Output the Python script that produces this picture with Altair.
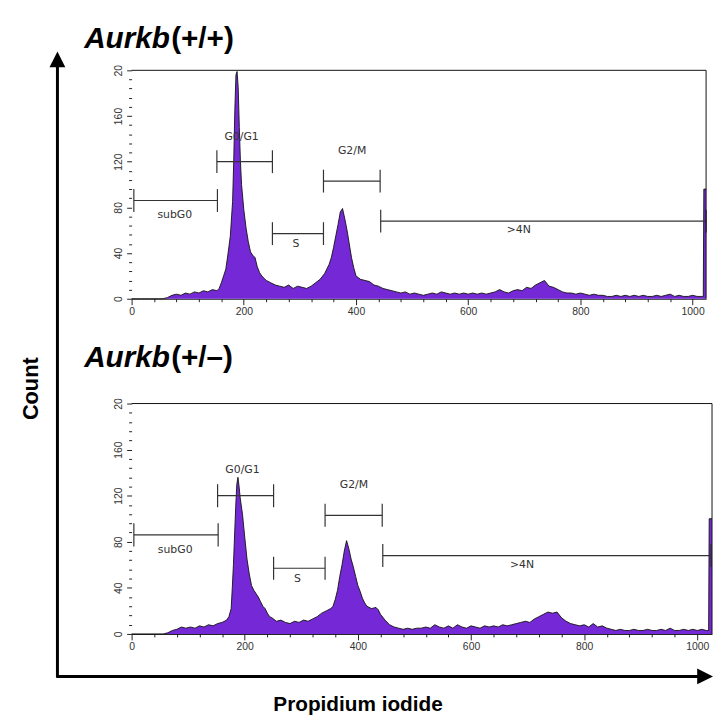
import altair as alt
import pandas as pd

# ---------------- data ----------------
top_pi = [0, 8, 16, 24, 32, 40, 48, 56, 64, 72, 80, 88, 96, 104, 112, 120, 128, 136, 144, 152,
          156, 160, 164, 168, 172, 176, 180, 182, 184, 186, 188, 190, 192, 194, 196, 200, 204,
          208, 212, 216, 220, 224, 228, 232, 236, 240, 248, 256, 264, 272, 280, 288, 296, 304,
          312, 320, 328, 336, 344, 352, 356, 360, 364, 368, 372, 376, 380, 384, 388, 392, 396,
          400, 408, 416, 424, 432, 440, 448, 456, 464, 472, 480, 488, 496, 504, 512, 520, 528,
          536, 544, 552, 560, 568, 576, 584, 592, 600, 608, 616, 624, 632, 640, 648, 656, 664,
          672, 680, 688, 696, 704, 712, 720, 728, 736, 744, 752, 760, 768, 776, 784, 792, 800,
          808, 816, 824, 832, 840, 848, 856, 864, 872, 880, 888, 896, 904, 912, 920, 928, 936,
          944, 952, 960, 968, 976, 984, 992, 1000, 1008, 1016, 1019, 1020, 1024]
top_count = [0, 0, 0, 0, 0, 0, 0, 0, 1, 3, 4, 3, 5, 4, 6, 5, 7, 6, 8, 7,
             9, 14, 20, 26, 40, 55, 85, 120, 165, 196, 199, 185, 150, 120, 100, 78, 62,
             50, 41, 38, 36, 28, 23, 20, 18, 16, 14, 12, 11, 10, 12, 9, 11, 10,
             9, 11, 14, 17, 22, 30, 36, 45, 55, 65, 76, 79, 70, 60, 48, 36, 27,
             20, 17, 16, 15, 12, 11, 9, 8, 7, 6, 5, 6, 4, 5, 4, 3, 4,
             5, 4, 6, 5, 4, 5, 4, 5, 4, 5, 4, 5, 4, 5, 6, 8, 6,
             5, 7, 8, 7, 10, 9, 12, 14, 16, 11, 10, 8, 6, 5, 5, 4, 5,
             4, 3, 4, 3, 3, 2, 2, 3, 2, 3, 2, 3, 2, 3, 2, 2, 3,
             2, 3, 4, 2, 3, 2, 2, 3, 2, 2, 2, 96, 96]

bot_pi = [0, 8, 16, 24, 32, 40, 48, 56, 64, 72, 80, 88, 96, 104, 112, 120, 128, 136, 144, 152,
          160, 168, 172, 176, 178, 180, 182, 184, 186, 188, 190, 192, 196, 200, 204, 208, 212,
          216, 220, 224, 228, 232, 236, 240, 244, 248, 256, 264, 272, 280, 288, 296, 304, 312,
          320, 328, 336, 344, 352, 356, 360, 364, 368, 372, 376, 380, 384, 388, 392, 396, 400,
          404, 408, 412, 416, 424, 432, 436, 440, 448, 456, 464, 472, 480, 488, 496, 504, 512,
          520, 528, 536, 544, 552, 560, 568, 576, 584, 592, 600, 608, 616, 624, 632, 640, 648,
          656, 664, 672, 680, 688, 696, 704, 712, 720, 728, 736, 744, 752, 760, 768, 776, 784,
          792, 800, 808, 816, 824, 832, 840, 848, 856, 864, 872, 880, 888, 896, 904, 912, 920,
          928, 936, 944, 952, 960, 968, 976, 984, 992, 1000, 1008, 1016, 1020, 1021, 1026]
bot_count = [0, 0, 0, 0, 0, 0, 0, 0, 1, 3, 4, 6, 5, 6, 5, 7, 6, 8, 7, 9,
             10, 12, 15, 22, 40, 60, 85, 110, 130, 136, 128, 118, 104, 84, 65, 52, 42,
             38, 35, 32, 28, 24, 22, 18, 15, 14, 11, 12, 10, 9, 11, 10, 12, 11,
             13, 15, 18, 20, 22, 24, 30, 38, 50, 60, 72, 81, 74, 65, 58, 50, 42,
             37, 31, 27, 24, 22, 23, 21, 17, 12, 8, 6, 5, 4, 5, 4, 5, 5,
             6, 5, 8, 6, 5, 7, 5, 8, 6, 5, 7, 6, 5, 7, 6, 7, 6,
             8, 7, 8, 9, 10, 11, 10, 13, 15, 17, 19, 18, 19, 14, 11, 9, 8,
             7, 8, 6, 9, 6, 7, 5, 4, 3, 4, 3, 3, 4, 3, 3, 4, 3,
             3, 4, 3, 5, 3, 3, 4, 3, 4, 3, 4, 3, 3, 100, 100]

gate_names = ["subG0", "G0/G1", "S", "G2/M", ">4N"]
gate_start = [4, 152, 251, 342, 444]
gate_end = [153, 251, 342, 443, 1024]
gate_level = [86, 120, 57, 103, 68]
gate_label_x = [77, 196, 293, 393, 690]
gate_label_y = [73, 142, 48, 129, 60]

panel_gene = ["Aurkb", "Aurkb"]
panel_allele = ["(+/+)", "(+/\u2013)"]
x_ticks = [0, 40, 80, 120, 160, 200, 240, 280, 320, 360, 400, 440, 480, 520, 560, 600,
           640, 680, 720, 760, 800, 840, 880, 920, 960, 1000]
y_ticks = [0, 8, 16, 24, 32, 40, 48, 56, 64, 72, 80, 88, 96, 104, 112, 120, 128, 136,
           144, 152, 160, 168, 176, 184, 192, 200]

PURPLE = "#7529d6"
BOLD_FONT = "Liberation Sans"
TICK_FONT = "Liberation Sans"
GATE_FONT = "DejaVu Sans"
TITLE_BASELINE = [-23, -37]

gates = pd.DataFrame({"name": gate_names, "start": gate_start, "end": gate_end,
                      "level": gate_level, "lx": gate_label_x, "ly": gate_label_y})


def panel(pi, counts, xmax, width, height, idx, decorate):
    hist = pd.DataFrame({"pi": pi, "count": counts})
    xsc = alt.Scale(domain=[0, xmax], nice=False, zero=False)
    ysc = alt.Scale(domain=[0, 200], nice=False, zero=True)
    xaxis = alt.Axis(values=x_ticks, title=None, grid=False, format="d",
                     labelExpr="datum.value % 200 === 0 ? datum.label : ''",
                     tickSize={"condition": {"test": "datum.value % 200 === 0", "value": 6}, "value": 3},
                     tickColor="#222", domainColor="#111", domainWidth=1,
                     labelColor="#333", labelFont=TICK_FONT, labelFontSize=10.5,
                     labelPadding=2, labelOverlap=False, labelFlush=False)
    yaxis = alt.Axis(values=y_ticks, title=None, grid=False, domain=False, format="d",
                     labelExpr="datum.value === 200 ? '20' : (datum.value % 40 === 0 ? datum.label : '')",
                     tickSize={"condition": {"test": "datum.value % 40 === 0", "value": 5}, "value": 3},
                     tickColor="#222", labelColor="#333", labelFont=TICK_FONT, labelFontSize=10.5,
                     labelAngle=270, labelAlign="center", labelBaseline="bottom",
                     labelPadding=3, labelOverlap=False, labelFlush=False)

    area = alt.Chart(hist).mark_area(color=PURPLE, opacity=1).encode(
        x=alt.X("pi:Q", scale=xsc, axis=xaxis),
        y=alt.Y("count:Q", scale=ysc, axis=yaxis))
    outline = alt.Chart(hist).mark_line(color="#111", strokeWidth=0.9).encode(
        x=alt.X("pi:Q", scale=xsc, axis=xaxis),
        y=alt.Y("count:Q", scale=ysc, axis=yaxis))

    g = alt.Chart(gates).transform_calculate(lo="datum.level - 10", hi="datum.level + 10")
    gate_bar = g.mark_rule(color="#333", strokeWidth=1.2).encode(
        x=alt.X("start:Q", scale=xsc, axis=xaxis), x2="end:Q",
        y=alt.Y("level:Q", scale=ysc, axis=yaxis))
    cap_l = g.mark_rule(color="#333", strokeWidth=1.2).encode(
        x=alt.X("start:Q", scale=xsc, axis=xaxis),
        y=alt.Y("lo:Q", scale=ysc, axis=yaxis), y2="hi:Q")
    cap_r = g.mark_rule(color="#333", strokeWidth=1.2).encode(
        x=alt.X("end:Q", scale=xsc, axis=xaxis),
        y=alt.Y("lo:Q", scale=ysc, axis=yaxis), y2="hi:Q")
    gate_text = g.mark_text(font=GATE_FONT, fontSize=11, color="#333").encode(
        x=alt.X("lx:Q", scale=xsc, axis=xaxis),
        y=alt.Y("ly:Q", scale=ysc, axis=yaxis), text="name:N")

    one = pd.DataFrame({"k": [0]})
    frame_top = alt.Chart(one).mark_rule(color="#111", strokeWidth=1).encode(
        x=alt.value(0), x2=alt.value(width), y=alt.value(0))
    frame_right = alt.Chart(one).mark_rule(color="#111", strokeWidth=1).encode(
        x=alt.value(width), y=alt.value(0), y2=alt.value(height))

    gene_df = pd.DataFrame({"t": [panel_gene[idx]]})
    allele_df = pd.DataFrame({"t": [panel_allele[idx]]})
    gene_t = alt.Chart(gene_df).mark_text(font=BOLD_FONT, fontSize=30, fontWeight="bold",
                                          fontStyle="italic", align="left",
                                          baseline="alphabetic", color="black").encode(
        x=alt.value(-48), y=alt.value(TITLE_BASELINE[idx]), text="t:N")
    allele_t = alt.Chart(allele_df).mark_text(font=BOLD_FONT, fontSize=30, fontWeight="bold",
                                              align="left", baseline="alphabetic",
                                              color="black").encode(
        x=alt.value(40), y=alt.value(TITLE_BASELINE[idx]), text="t:N")

    layers = [area, outline, gate_bar, cap_l, cap_r, gate_text, frame_top, frame_right,
              gene_t, allele_t]

    if decorate:
        anchor = alt.Chart(one).mark_rule(color="white", strokeWidth=0.01).encode(
            x=alt.value(-124), x2=alt.value(-123), y=alt.value(-58))
        vline = alt.Chart(one).mark_rule(color="black", strokeWidth=3).encode(
            x=alt.value(-75), y=alt.value(-4), y2=alt.value(614))
        hline = alt.Chart(one).mark_rule(color="black", strokeWidth=3).encode(
            x=alt.value(-76), x2=alt.value(576), y=alt.value(613))
        head_up = alt.Chart(one).mark_point(shape="M0,-1L1,1L-1,1Z", size=256, filled=True,
                                            color="black", opacity=1).encode(
            x=alt.value(-75), y=alt.value(-11))
        head_right = alt.Chart(one).mark_point(shape="M1,0L-1,-1L-1,1Z", size=256, filled=True,
                                               color="black", opacity=1).encode(
            x=alt.value(580), y=alt.value(613))
        count_t = alt.Chart(pd.DataFrame({"t": ["Count"]})).mark_text(
            font=BOLD_FONT, fontSize=22, fontWeight="bold", angle=270, color="black").encode(
            x=alt.value(-102), y=alt.value(322), text="t:N")
        pi_t = alt.Chart(pd.DataFrame({"t": ["Propidium iodide"]})).mark_text(
            font=BOLD_FONT, fontSize=21, fontWeight="bold", color="black").encode(
            x=alt.value(229), y=alt.value(642), text="t:N")
        layers = [anchor] + layers + [vline, hline, head_up, head_right, count_t, pi_t]

    return alt.layer(*layers).properties(width=width, height=height)


top = panel(top_pi, top_count, 1024, 581, 231, 0, True)
bottom = panel(bot_pi, bot_count, 1026, 587, 233, 1, False)

chart = alt.vconcat(top, bottom, spacing=106, bounds="flush").properties(
    padding=0, background="white").configure_view(stroke=None)

chart.save("out.html", embed_options={"renderer": "svg", "actions": False})
